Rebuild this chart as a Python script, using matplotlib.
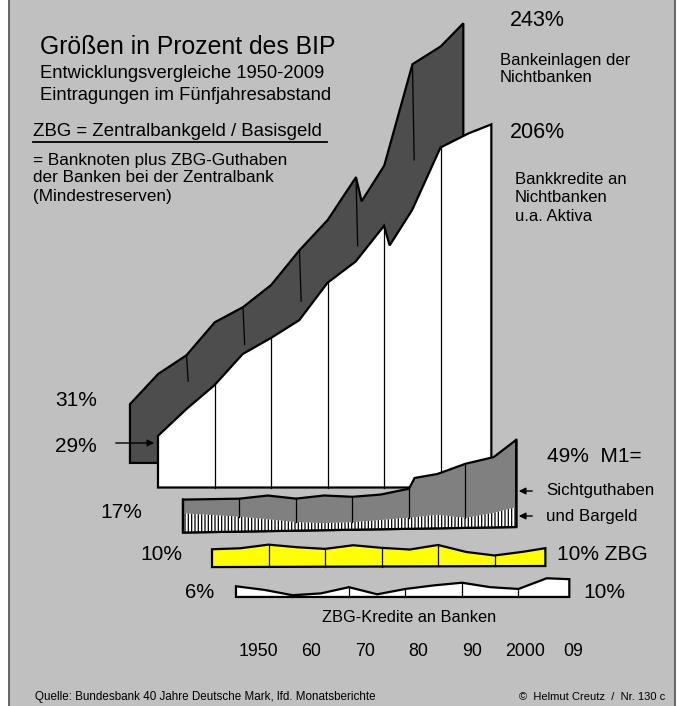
import numpy as np
import matplotlib
matplotlib.use("Agg")
import matplotlib.pyplot as plt
from matplotlib.patches import Rectangle

plt.rcParams['font.family'] = ['Liberation Sans', 'DejaVu Sans']
plt.rcParams['hatch.linewidth'] = 0.9

# values in percent of GDP (1991 = after reunification)
years = [1950, 1955, 1960, 1965, 1970, 1975, 1980, 1985, 1990, 1991, 1995, 2000, 2005, 2009]
deposits = [33, 50, 60.5, 79, 87.5, 100, 119.5, 136.5, 160.5, 147, 167, 224, 234, 247]
credits = [29, 44, 57.5, 75, 84, 94, 115, 127, 147, 136, 156, 191, 199, 204]
m1 = [18.5, 18.5, 18.5, 20, 18, 19.5, 18.5, 19.5, 22.5, 28.5, 30.5, 36, 39.5, 49]
cash = [10.8, 9.6, 8.4, 6.7, 4.8, 4.0, 4.2, 5.2, 6.3, 6.5, 7.6, 5.6, 8.2, 11.2]

years5 = [1950, 1955, 1960, 1965, 1970, 1975, 1980, 1985, 1990, 1995, 2000, 2005, 2009]
zbg = [10, 10.5, 12.5, 11, 10, 12, 10.5, 9.5, 12, 8, 6, 8, 10]
zbg_credit = [6, 4, 1, 2, 5.5, 1.5, 4.5, 6.5, 8, 5.5, 4.5, 10.5, 10]

decades = [1960, 1970, 1980, 1990, 2000]
year_labels = ['1950', '60', '70', '80', '90', '2000', '09']
year_label_pos = [1950, 1960, 1970, 1980, 1990, 2000, 2009]

W, H = 682, 706
PX_YR, PX_PCT = 5.65, 1.78
X0 = 1950 - 158 / PX_YR
Y_TOP = 487.5 / PX_PCT

fig = plt.figure(figsize=(W / 100, H / 100), dpi=100, facecolor='white')
fig.patches.append(Rectangle((9 / W, 0), 666 / W, 1, transform=fig.transFigure,
                             facecolor='#c0c0c0', edgecolor='none', zorder=-5))
for xe in (9, 675):
    fig.add_artist(plt.Line2D([xe / W, xe / W], [0, 1], color='#505050', lw=1.2, zorder=-4))

ax = fig.add_axes([0, 0, 1, 1])
ax.set_xlim(X0, X0 + W / PX_YR)
ax.set_ylim(Y_TOP - H / PX_PCT, Y_TOP)
ax.axis('off')

OUT = 1.6
THIN = 0.9


def band(yrs, vals, dx, base_l, base_r, color, lines=True, under=None, z=2):
    x = np.array(yrs, float) + dx
    t = (x - x[0]) / (x[-1] - x[0])
    base = base_l + (base_r - base_l) * t
    top = base + np.array(vals)
    ax.fill(np.r_[x, x[::-1]], np.r_[top, base[::-1]], facecolor=color,
            edgecolor='black', lw=OUT, joinstyle='miter', zorder=z)
    if under is not None:
        ax.fill_between(x, base, base + np.array(under), facecolor='white',
                        edgecolor='black', hatch='|||||', lw=0, zorder=z + 0.1)
        ax.plot([x[0], x[0], x[-1], x[-1]], [top[0], base[0], base[-1], top[-1]],
                color='black', lw=OUT, zorder=z + 0.2)
    if lines:
        for d in decades:
            xd = d + dx
            b = np.interp(xd, x, base)
            lo = b if under is None else b + np.interp(d, yrs, under)
            ax.plot([xd, xd], [lo, b + np.interp(d, yrs, vals)],
                    color='black', lw=THIN, zorder=z + 0.3)
    return x, base, top


# Bank deposits, drawn behind with a depth offset
dx_dep, base_dep = -4.96, 13.8
band(years, deposits, dx_dep, base_dep, base_dep, '#4d4d4d', lines=False, z=2)
for d in decades:
    xd = d + dx_dep
    topd = base_dep + np.interp(d, years, deposits)
    ax.plot([xd, xd + 0.3], [topd, topd - 0.24 * np.interp(d, years, deposits)],
            color='black', lw=THIN, zorder=2.5)

# Bank credits
band(years, credits, 0, 0, 0, 'white', z=3)

# M1: demand deposits + cash
band(years, m1, 4.42, -25.3, -22.2, '#808080', under=cash, z=4)

# central bank money
band(years5, zbg, 9.56, -44.7, -44.1, '#ffff00', z=5)

# central bank credits to banks
band(years5, zbg_credit, 13.8, -61.5, -61.5, 'white', z=6)


def T(px, py, s, size, ha='left', **kw):
    fig.text(px / W, 1 - py / H, s, fontsize=size, ha=ha, va='center', **kw)


T(40, 47, 'Größen in Prozent des BIP', 17.8)
T(40, 74, 'Entwicklungsvergleiche 1950-2009', 13.2)
T(40, 96, 'Eintragungen im Fünfjahresabstand', 13.2)
T(33, 131, 'ZBG = Zentralbankgeld / Basisgeld', 13.4)
fig.add_artist(plt.Line2D([33 / W, 327 / W], [1 - 142 / H, 1 - 142 / H], color='black', lw=1.3))
T(33, 160, '= Banknoten plus ZBG-Guthaben', 12.3)
T(33, 178, 'der Banken bei der Zentralbank', 12.3)
T(33, 197, '(Mindestreserven)', 12.3)

T(510, 20, '243%', 15.5)
T(500, 60, 'Bankeinlagen der', 12)
T(500, 77, 'Nichtbanken', 12)
T(510, 132, '206%', 15.5)
T(515, 180, 'Bankkredite an', 12)
T(515, 198, 'Nichtbanken', 12)
T(515, 216, 'u.a. Aktiva', 12)

T(55, 400, '31%', 15)
T(55, 446, '29%', 15)
T(100, 512, '17%', 15)
T(547, 456, '49%  M1=', 15)
T(546, 491, 'Sichtguthaben', 12.2)
T(546, 517, 'und Bargeld', 12.2)
T(140, 554, '10%', 15)
T(557, 554, '10% ZBG', 15)
T(185, 592, '6%', 14.5)
T(583, 592, '10%', 15)
T(409, 617, 'ZBG-Kredite an Banken', 11.8, ha='center')

for lab, yr in zip(year_labels, year_label_pos):
    T(258 + (yr - 1950) * 5.35, 651, lab, 12.8, ha='center')

T(35, 697, 'Quelle: Bundesbank 40 Jahre Deutsche Mark, lfd. Monatsberichte', 8.4)
T(665, 697, '©  Helmut Creutz  /  Nr. 130 c', 8.0, ha='right')

arrow = dict(arrowstyle='-|>', color='black', lw=1.0, mutation_scale=10)
for (x1, x2, yy) in [(113, 157, 443), (535, 516, 491), (535, 516, 516)]:
    ax.annotate('', xy=(x2, H - yy), xytext=(x1, H - yy),
                xycoords='figure pixels', textcoords='figure pixels', arrowprops=arrow)

fig.savefig('out.png', dpi=100, facecolor=fig.get_facecolor())
